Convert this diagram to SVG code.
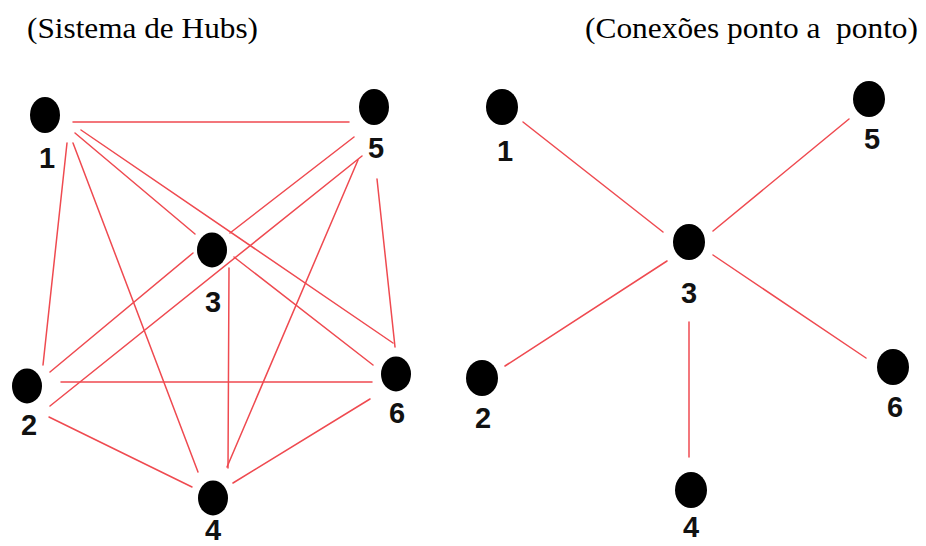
<svg xmlns="http://www.w3.org/2000/svg" width="926" height="546" viewBox="0 0 926 546">
<style>
.title{font-family:"Liberation Serif","Times New Roman",serif;font-size:29px;fill:#000}
.lbl{font-family:"Liberation Sans",Arial,sans-serif;font-size:29px;font-weight:bold;fill:#111;text-anchor:middle}
.dot{fill:#000}
.edge{stroke:#ef4a50;stroke-width:1.5;fill:none;stroke-linecap:round}
</style>
<rect width="926" height="546" fill="#fff"/>
<text class="title" x="27" y="38" textLength="231" lengthAdjust="spacingAndGlyphs">(Sistema de Hubs)</text>
<text class="title" x="585" y="38" textLength="333" lengthAdjust="spacingAndGlyphs" xml:space="preserve">(Conexões ponto a  ponto)</text>
<g id="connectors-hubs">
<line class="edge" x1="73" y1="122" x2="349" y2="122"/>
<line class="edge" x1="75" y1="133" x2="195" y2="234"/>
<line class="edge" x1="81" y1="130" x2="393" y2="343"/>
<line class="edge" x1="67" y1="143" x2="43" y2="365"/>
<line class="edge" x1="73" y1="143" x2="198" y2="472"/>
<line class="edge" x1="354" y1="137" x2="230" y2="233"/>
<line class="edge" x1="362" y1="156" x2="50" y2="406"/>
<line class="edge" x1="358" y1="160" x2="227" y2="467"/>
<line class="edge" x1="377" y1="179" x2="395" y2="347"/>
<line class="edge" x1="193" y1="253" x2="50" y2="372"/>
<line class="edge" x1="234" y1="257" x2="373" y2="365"/>
<line class="edge" x1="229" y1="268" x2="228" y2="468"/>
<line class="edge" x1="61" y1="382" x2="372" y2="382"/>
<line class="edge" x1="49" y1="417" x2="192" y2="487"/>
<line class="edge" x1="233" y1="483" x2="370" y2="399"/>
</g>
<g id="connectors-p2p">
<line class="edge" x1="523" y1="122" x2="663" y2="232"/>
<line class="edge" x1="713" y1="231" x2="849" y2="119"/>
<line class="edge" x1="667" y1="261" x2="505" y2="366"/>
<line class="edge" x1="713" y1="255" x2="866" y2="358"/>
<line class="edge" x1="689" y1="322" x2="689" y2="457"/>
</g>
<g id="hub-node-1"><ellipse class="dot" cx="45" cy="115" rx="15" ry="18"/><text class="lbl" x="47" y="168">1</text></g>
<g id="hub-node-2"><ellipse class="dot" cx="27" cy="386" rx="15" ry="17.5"/><text class="lbl" x="29" y="435">2</text></g>
<g id="hub-node-3"><ellipse class="dot" cx="212" cy="250" rx="15" ry="17.5"/><text class="lbl" x="213" y="312">3</text></g>
<g id="hub-node-4"><ellipse class="dot" cx="213" cy="498" rx="15" ry="17.5"/><text class="lbl" x="213" y="540">4</text></g>
<g id="hub-node-5"><ellipse class="dot" cx="374" cy="107" rx="15" ry="18"/><text class="lbl" x="376" y="158">5</text></g>
<g id="hub-node-6"><ellipse class="dot" cx="396" cy="374" rx="15" ry="17.5"/><text class="lbl" x="397" y="423">6</text></g>
<g id="p2p-node-1"><ellipse class="dot" cx="502" cy="107" rx="16" ry="18"/><text class="lbl" x="505" y="161">1</text></g>
<g id="p2p-node-2"><ellipse class="dot" cx="482" cy="378" rx="16" ry="18"/><text class="lbl" x="483" y="428">2</text></g>
<g id="p2p-node-3"><ellipse class="dot" cx="689" cy="242" rx="16" ry="18"/><text class="lbl" x="689" y="303">3</text></g>
<g id="p2p-node-4"><ellipse class="dot" cx="691" cy="490" rx="16" ry="18"/><text class="lbl" x="691" y="537">4</text></g>
<g id="p2p-node-5"><ellipse class="dot" cx="869" cy="99" rx="16" ry="18"/><text class="lbl" x="872" y="149">5</text></g>
<g id="p2p-node-6"><ellipse class="dot" cx="893" cy="367" rx="16" ry="18"/><text class="lbl" x="895" y="417">6</text></g>
</svg>
